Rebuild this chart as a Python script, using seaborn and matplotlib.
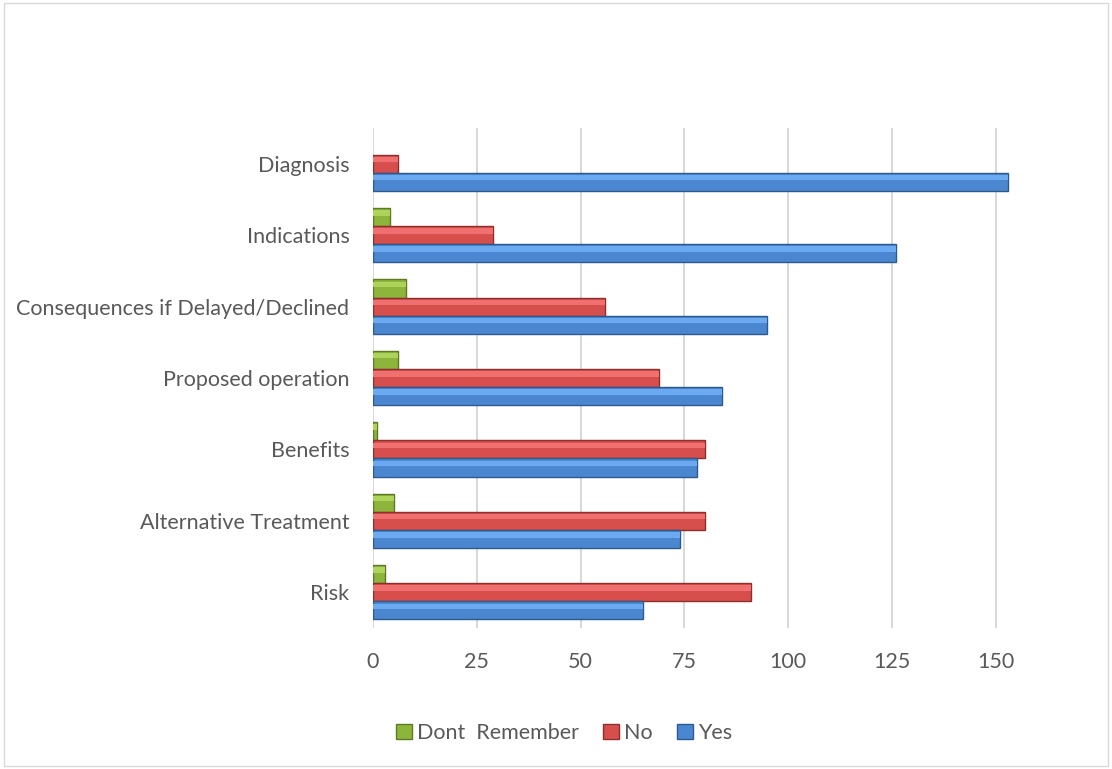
import matplotlib; matplotlib.use("Agg")
import matplotlib.pyplot as plt
import seaborn as sns
import pandas as pd
from matplotlib.patches import Rectangle

categories = ["Diagnosis", "Indications", "Consequences if Delayed/Declined",
              "Proposed operation", "Benefits", "Alternative Treatment", "Risk"]
series = ["Dont  Remember", "No", "Yes"]
dont_remember = [0, 4, 8, 6, 1, 5, 3]
no_vals = [6, 29, 56, 69, 80, 80, 91]
yes_vals = [153, 126, 95, 84, 78, 74, 65]
x_ticks = [0, 25, 50, 75, 100, 125, 150]

COLORS = {"Dont  Remember": "#8DB53C", "No": "#D64F4C", "Yes": "#4A87D0"}
LIGHT = {"Dont  Remember": "#AED35A", "No": "#F07070", "Yes": "#6BAAF0"}
EDGES = {"Dont  Remember": "#5E7A27", "No": "#8E2F2D", "Yes": "#2D5A8E"}

df = pd.DataFrame({"Category": categories * 3,
                   "Series": sum([[s] * len(categories) for s in series], []),
                   "Value": dont_remember + no_vals + yes_vals})

sns.set_style("white")
plt.rcParams["font.family"] = ["Lato", "DejaVu Sans"]

fig = plt.figure(figsize=(11.12, 7.69), dpi=100)
ax = fig.add_axes([373/1112, 1-628/769, 664/1112, 500/769])
sns.barplot(data=df, y="Category", x="Value", hue="Series", order=categories,
            hue_order=series, palette=COLORS, orient="h", width=0.76,
            errorbar=None, ax=ax, legend=False, saturation=1)

# simple bevel: lighter band along the top of each bar
for cont, s in zip(ax.containers, series):
    for b in cont:
        b.set_edgecolor(EDGES[s])
        b.set_linewidth(1.0 if b.get_width() > 0 else 0)
        if b.get_width() > 0:
            h = b.get_height()
            ax.add_patch(Rectangle((b.get_x(), b.get_y() + h*0.12), b.get_width(), h*0.3,
                                   facecolor=LIGHT[s], lw=0, zorder=b.get_zorder()+0.1))

ax.set_xlim(0, 160)
ax.set_xticks(x_ticks)
ax.set_xlabel(""); ax.set_ylabel("")
ax.xaxis.grid(True, color="#D9D9D9", lw=1.5)
ax.set_axisbelow(True)
for sp in ax.spines.values(): sp.set_visible(False)
ax.tick_params(axis="both", length=0, labelsize=15.5, colors="#595959")
ax.tick_params(axis="y", pad=17)
ax.tick_params(axis="x", pad=17)

handles = [Rectangle((0, 0), 1, 1, facecolor=COLORS[s], edgecolor=EDGES[s]) for s in series]
fig.legend(handles, series, loc="center", bbox_to_anchor=(564/1112, 1-733/769), ncol=3,
           frameon=False, handlelength=0.75, handleheight=0.75, handletextpad=0.25,
           columnspacing=1.1, fontsize=15.5, labelcolor="#595959")

fig.patches.append(Rectangle((0.004, 0.004), 0.992, 0.992, transform=fig.transFigure,
                             fill=False, edgecolor="#D9D9D9", lw=1))

fig.savefig("out.png", dpi=100)
